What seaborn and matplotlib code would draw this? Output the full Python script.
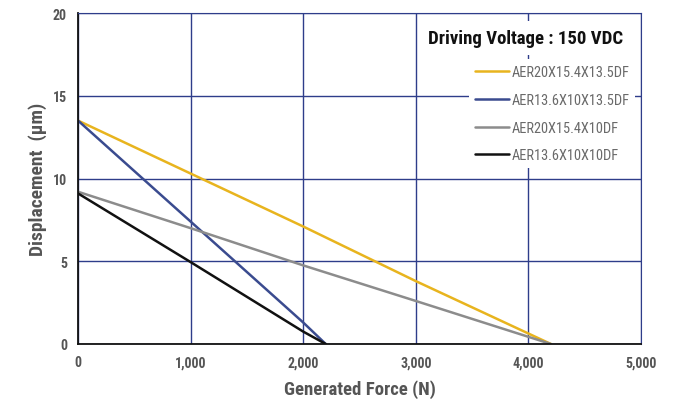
import pandas as pd
import seaborn as sns
import matplotlib.pyplot as plt
from matplotlib import font_manager

# curve data
force = [0, 1000, 2000, 3000, 4200]
disp_20x15_4x13_5 = [13.5, 10.3, 7.1, 3.8, 0.0]
force_short = [0, 1000, 2000, 2200]
disp_13_6x10x13_5 = [13.5, 7.4, 1.3, 0.0]
disp_20x15_4x10 = [9.2, 7.0, 4.75, 2.6, 0.0]
disp_13_6x10x10 = [9.1, 4.95, 0.75, 0.0]

names = ["AER20X15.4X13.5DF", "AER13.6X10X13.5DF", "AER20X15.4X10DF", "AER13.6X10X10DF"]
colors = ["#e8b41e", "#3a4b8f", "#8c8c8c", "#111111"]
x_ticks = [0, 1000, 2000, 3000, 4000, 5000]
x_tick_labels = ["0", "1,000", "2,000", "3,000", "4,000", "5,000"]
y_ticks = [0, 5, 10, 15, 20]

frames = [
    pd.DataFrame({"force": force, "disp": disp_20x15_4x13_5, "model": names[0]}),
    pd.DataFrame({"force": force_short, "disp": disp_13_6x10x13_5, "model": names[1]}),
    pd.DataFrame({"force": force, "disp": disp_20x15_4x10, "model": names[2]}),
    pd.DataFrame({"force": force_short, "disp": disp_13_6x10x10, "model": names[3]}),
]
df = pd.concat(frames, ignore_index=True)

sns.set_style("white")
avail = {f.name for f in font_manager.fontManager.ttflist}
fam = "Roboto"
for cand in ["Roboto Condensed", "Liberation Sans Narrow", "Open Sans Condensed", "Noto Sans Condensed"]:
    if cand in avail:
        fam = cand
        break
plt.rcParams["font.family"] = [fam, "DejaVu Sans"]

grid_c = "#2e3d8a"
fig = plt.figure(figsize=(6.75, 4.06), dpi=100)
ax = fig.add_axes([78 / 675, 1 - 345 / 406, (641 - 78) / 675, (345 - 14) / 406])

sns.lineplot(data=df, x="force", y="disp", hue="model", hue_order=names,
             palette=colors, linewidth=1.8, ax=ax, legend=True, sort=False)

ax.set_xlim(0, 5000)
ax.set_ylim(0, 20)
ax.set_xticks(x_ticks)
ax.set_xticklabels(x_tick_labels)
ax.set_yticks(y_ticks)
ax.grid(True, color=grid_c, linewidth=1.0)
ax.set_axisbelow(True)
for s in ["top", "right"]:
    ax.spines[s].set_color(grid_c)
for s in ["left", "bottom"]:
    ax.spines[s].set_color("#111111")
    ax.spines[s].set_linewidth(1.3)
ax.tick_params(axis="both", length=0, pad=8, labelsize=10, labelcolor="#555555")
for lab in ax.get_xticklabels() + ax.get_yticklabels():
    lab.set_fontweight("bold")

ax.set_xlabel("Generated Force (N)", fontsize=13.5, fontweight="bold", color="#555555", labelpad=7)
ax.set_ylabel("Displacement  (μm)", fontsize=14, fontweight="bold", color="#555555", labelpad=4)

# title of the legend as its own text, legend box below it
ax.text(0.968, 0.925, "Driving Voltage : 150 VDC", transform=ax.transAxes,
        ha="right", va="center", fontsize=13.5, fontweight="bold", color="#111111",
        bbox=dict(facecolor="white", edgecolor="none", pad=6))

leg = ax.legend(loc="upper right", bbox_to_anchor=(0.99, 0.86), frameon=True,
                fontsize=10.4, handlelength=2.4, handletextpad=0.15, labelspacing=0.95,
                borderaxespad=0.0, borderpad=0.4)
leg.get_frame().set_facecolor("white")
leg.get_frame().set_edgecolor("none")
leg.get_frame().set_alpha(1)
for t in leg.get_texts():
    t.set_color("#6a6a6a")

fig.savefig("out.png", dpi=100, facecolor="white")
